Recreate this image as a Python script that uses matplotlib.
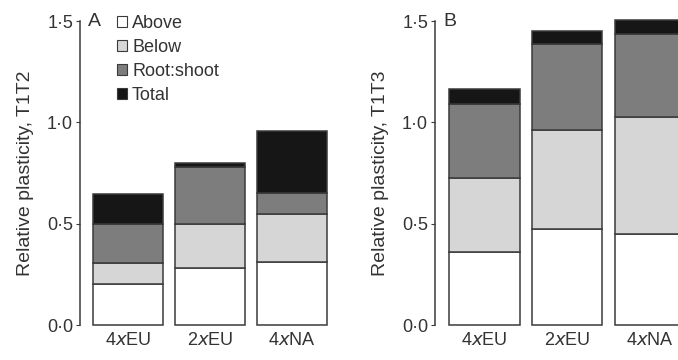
import matplotlib.pyplot as plt
from matplotlib.patches import Patch

plt.rcParams['font.family'] = ['Liberation Sans', 'DejaVu Sans']

# =============================================================
# Dados (alturas de cada segmento empilhado)
# =============================================================
groups = [r"4$\it{x}$EU", r"2$\it{x}$EU", r"4$\it{x}$NA"]
components = ["Above", "Below", "Root:shoot", "Total"]
colors = ["#ffffff", "#d6d6d6", "#7d7d7d", "#161616"]

# painel A – T1T2
a_above = [0.20, 0.28, 0.31]
a_below = [0.105, 0.22, 0.24]
a_root = [0.195, 0.28, 0.10]
a_total = [0.145, 0.02, 0.305]

# painel B – T1T3
b_above = [0.36, 0.475, 0.45]
b_below = [0.365, 0.485, 0.575]
b_root = [0.365, 0.425, 0.41]
b_total = [0.075, 0.065, 0.07]

yticks = [0.0, 0.5, 1.0, 1.5]
ytick_labels = ["0·0", "0·5", "1·0", "1·5"]

TXT = "#333333"
EDGE = "#3a3a3a"
FS = 13


def draw_panel(ax, layers, ylabel, letter, xmin):
    x = range(len(groups))
    bottom = [0.0] * len(groups)
    for vals, col in zip(layers, colors):
        ax.bar(x, vals, bottom=bottom, width=0.85, color=col,
               edgecolor=EDGE, linewidth=1.1, clip_on=False)
        bottom = [b + v for b, v in zip(bottom, vals)]
    ax.set_xlim(xmin, 2.5)
    ax.set_ylim(0, 1.5)
    ax.set_yticks(yticks)
    ax.set_yticklabels(ytick_labels, color=TXT, fontsize=FS)
    ax.set_xticks(list(x))
    ax.set_xticklabels(groups, color=TXT, fontsize=FS)
    ax.tick_params(axis='x', length=0, pad=5)
    ax.tick_params(axis='y', length=3, color=EDGE, pad=2)
    for s in ['top', 'right', 'bottom']:
        ax.spines[s].set_visible(False)
    ax.spines['left'].set_color(EDGE)
    ax.spines['left'].set_linewidth(1.1)
    ax.set_ylabel(ylabel, color=TXT, fontsize=14, labelpad=9)
    ax.text(xmin + 0.10, 1.5, letter, color=TXT, fontsize=14,
            ha='left', va='center')


fig = plt.figure(figsize=(6.78, 3.6), dpi=100)
h = 304 / 360
b0 = 35 / 360
axA = fig.add_axes([80 / 678, b0, 253 / 678, h])
axB = fig.add_axes([435 / 678, b0, 256 / 678, h])

draw_panel(axA, [a_above, a_below, a_root, a_total],
           "Relative plasticity, T1T2", "A", -0.585)
draw_panel(axB, [b_above, b_below, b_root, b_total],
           "Relative plasticity, T1T3", "B", -0.6)

handles = [Patch(facecolor=c, edgecolor=EDGE, linewidth=0.8) for c in colors]
axA.legend(handles, components, loc='upper left', bbox_to_anchor=(0.145, 1.02),
           frameon=False, fontsize=13, handlelength=0.55, handleheight=0.55,
           handletextpad=0.3, labelspacing=0.38, labelcolor=TXT,
           borderaxespad=0, borderpad=0)

fig.savefig("out.png", dpi=100)
